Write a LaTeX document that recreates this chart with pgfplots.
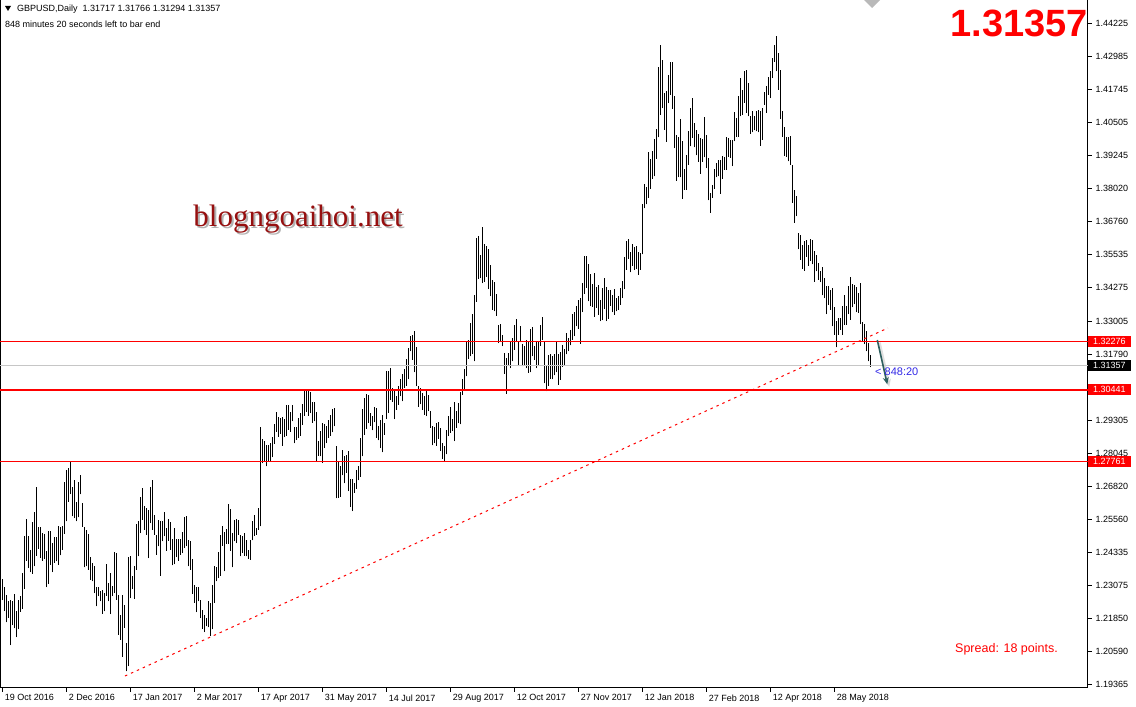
\documentclass[border=0pt]{standalone}
\usepackage{fontspec}
\setmainfont{Liberation Sans}
\newfontfamily\wmfont{Liberation Serif}
\usepackage{pgfplots}
\pgfplotsset{compat=1.18}
\usepackage{pgfplotstable}
\usetikzlibrary{arrows.meta}

\definecolor{arrowteal}{RGB}{45,95,95}
\definecolor{wmred}{RGB}{150,15,15}
\definecolor{timeblue}{RGB}{50,40,230}

% GBPUSD daily bars: bar index, low, high
\pgfplotstableread{
i lo hi
0 1.2253 1.2334
1 1.2212 1.2302
2 1.2170 1.2274
3 1.2187 1.2249
4 1.2084 1.2252
5 1.2159 1.2249
6 1.2147 1.2277
7 1.2114 1.2214
8 1.2143 1.2252
9 1.2209 1.2268
10 1.2220 1.2355
11 1.2297 1.2495
12 1.2402 1.2559
13 1.2374 1.2495
14 1.2359 1.2443
15 1.2353 1.2547
16 1.2380 1.2584
17 1.2420 1.2677
18 1.2447 1.2527
19 1.2412 1.2527
20 1.2402 1.2505
21 1.2409 1.2503
22 1.2302 1.2439
23 1.2314 1.2514
24 1.2387 1.2514
25 1.2359 1.2468
26 1.2393 1.2489
27 1.2399 1.2489
28 1.2387 1.2533
29 1.2422 1.2527
30 1.2443 1.2533
31 1.2503 1.2699
32 1.2549 1.2743
33 1.2624 1.2749
34 1.2652 1.2774
35 1.2568 1.2680
36 1.2562 1.2705
37 1.2549 1.2624
38 1.2564 1.2699
39 1.2651 1.2724
40 1.2530 1.2618
41 1.2376 1.2530
42 1.2380 1.2518
43 1.2368 1.2503
44 1.2330 1.2415
45 1.2324 1.2393
46 1.2280 1.2380
47 1.2230 1.2303
48 1.2268 1.2302
49 1.2249 1.2289
50 1.2203 1.2290
51 1.2211 1.2280
52 1.2270 1.2389
53 1.2249 1.2318
54 1.2201 1.2355
55 1.2268 1.2308
56 1.2280 1.2436
57 1.2255 1.2430
58 1.2124 1.2274
59 1.2105 1.2199
60 1.2040 1.2274
61 1.2149 1.2236
62 1.1985 1.2093
63 1.2005 1.2415
64 1.2261 1.2418
65 1.2295 1.2345
66 1.2258 1.2383
67 1.2368 1.2540
68 1.2418 1.2549
69 1.2505 1.2640
70 1.2555 1.2674
71 1.2518 1.2609
72 1.2499 1.2599
73 1.2411 1.2593
74 1.2543 1.2680
75 1.2518 1.2705
76 1.2499 1.2574
77 1.2424 1.2499
78 1.2455 1.2555
79 1.2345 1.2549
80 1.2474 1.2551
81 1.2493 1.2583
82 1.2439 1.2524
83 1.2476 1.2558
84 1.2443 1.2546
85 1.2384 1.2484
86 1.2389 1.2526
87 1.2415 1.2484
88 1.2401 1.2484
89 1.2424 1.2484
90 1.2430 1.2511
91 1.2449 1.2564
92 1.2455 1.2570
93 1.2380 1.2478
94 1.2368 1.2474
95 1.2278 1.2408
96 1.2243 1.2309
97 1.2208 1.2303
98 1.2249 1.2303
99 1.2186 1.2255
100 1.2145 1.2218
101 1.2133 1.2199
102 1.2155 1.2186
103 1.2151 1.2251
104 1.2118 1.2243
105 1.2143 1.2311
106 1.2243 1.2380
107 1.2324 1.2376
108 1.2336 1.2436
109 1.2345 1.2499
110 1.2458 1.2533
111 1.2361 1.2508
112 1.2465 1.2520
113 1.2465 1.2615
114 1.2439 1.2595
115 1.2376 1.2505
116 1.2474 1.2555
117 1.2468 1.2558
118 1.2499 1.2553
119 1.2418 1.2500
120 1.2431 1.2493
121 1.2421 1.2506
122 1.2418 1.2481
123 1.2408 1.2441
124 1.2406 1.2478
125 1.2478 1.2550
126 1.2496 1.2575
127 1.2500 1.2525
128 1.2518 1.2600
129 1.2531 1.2903
130 1.2768 1.2858
131 1.2777 1.2852
132 1.2756 1.2837
133 1.2775 1.2837
134 1.2775 1.2843
135 1.2791 1.2866
136 1.2841 1.2916
137 1.2887 1.2962
138 1.2868 1.2943
139 1.2878 1.2937
140 1.2833 1.2941
141 1.2866 1.2933
142 1.2871 1.2987
143 1.2893 1.2987
144 1.2887 1.2962
145 1.2925 1.2987
146 1.2843 1.2906
147 1.2856 1.2906
148 1.2862 1.2937
149 1.2871 1.2958
150 1.2912 1.2991
151 1.2946 1.3046
152 1.2962 1.3040
153 1.2946 1.3040
154 1.2956 1.3034
155 1.2921 1.3000
156 1.2925 1.3000
157 1.2775 1.2962
158 1.2796 1.2850
159 1.2794 1.2890
160 1.2769 1.2919
161 1.2825 1.2917
162 1.2844 1.2909
163 1.2863 1.2932
164 1.2872 1.2950
165 1.2884 1.2972
166 1.2907 1.2975
167 1.2636 1.2834
168 1.2638 1.2775
169 1.2642 1.2759
170 1.2722 1.2819
171 1.2692 1.2797
172 1.2732 1.2800
173 1.2663 1.2813
174 1.2604 1.2709
175 1.2588 1.2709
176 1.2657 1.2692
177 1.2672 1.2744
178 1.2704 1.2757
179 1.2717 1.2863
180 1.2794 1.2972
181 1.2875 1.3013
182 1.2897 1.3029
183 1.2919 1.3025
184 1.2909 1.2957
185 1.2892 1.2947
186 1.2922 1.2979
187 1.2863 1.2975
188 1.2854 1.2909
189 1.2825 1.2929
190 1.2809 1.2950
191 1.2875 1.2919
192 1.2934 1.3113
193 1.2957 1.3113
194 1.3007 1.3125
195 1.3000 1.3050
196 1.2934 1.3038
197 1.2969 1.3019
198 1.2988 1.3059
199 1.3020 1.3085
200 1.3001 1.3105
201 1.3051 1.3123
202 1.3060 1.3160
203 1.3083 1.3201
204 1.3189 1.3245
205 1.3158 1.3251
206 1.3110 1.3264
207 1.3058 1.3205
208 1.2980 1.3060
209 1.2989 1.3051
210 1.2970 1.3033
211 1.2951 1.3020
212 1.2945 1.3039
213 1.2964 1.3023
214 1.2901 1.2964
215 1.2835 1.2908
216 1.2843 1.2905
217 1.2833 1.2920
218 1.2860 1.2923
219 1.2814 1.2901
220 1.2783 1.2843
221 1.2776 1.2833
222 1.2801 1.2893
223 1.2870 1.2945
224 1.2883 1.2980
225 1.2889 1.2933
226 1.2851 1.2998
227 1.2901 1.2964
228 1.2918 1.2995
229 1.2914 1.3035
230 1.3026 1.3083
231 1.3045 1.3123
232 1.3095 1.3223
233 1.3160 1.3233
234 1.3170 1.3295
235 1.3180 1.3330
236 1.3151 1.3401
237 1.3376 1.3614
238 1.3460 1.3623
239 1.3464 1.3551
240 1.3445 1.3658
241 1.3451 1.3593
242 1.3470 1.3585
243 1.3423 1.3573
244 1.3395 1.3514
245 1.3345 1.3458
246 1.3339 1.3451
247 1.3323 1.3405
248 1.3220 1.3289
249 1.3226 1.3293
250 1.3208 1.3251
251 1.3105 1.3183
252 1.3030 1.3164
253 1.3133 1.3183
254 1.3126 1.3223
255 1.3151 1.3239
256 1.3195 1.3289
257 1.3223 1.3310
258 1.3133 1.3226
259 1.3223 1.3285
260 1.3133 1.3218
261 1.3135 1.3210
262 1.3126 1.3230
263 1.3108 1.3226
264 1.3110 1.3273
265 1.3170 1.3280
266 1.3158 1.3208
267 1.3126 1.3226
268 1.3133 1.3226
269 1.3210 1.3289
270 1.3233 1.3318
271 1.3068 1.3223
272 1.3039 1.3135
273 1.3060 1.3176
274 1.3085 1.3180
275 1.3083 1.3173
276 1.3098 1.3180
277 1.3110 1.3223
278 1.3064 1.3180
279 1.3081 1.3186
280 1.3131 1.3214
281 1.3136 1.3196
282 1.3177 1.3258
283 1.3189 1.3239
284 1.3211 1.3268
285 1.3233 1.3331
286 1.3246 1.3336
287 1.3283 1.3361
288 1.3273 1.3383
289 1.3218 1.3389
290 1.3336 1.3446
291 1.3406 1.3548
292 1.3427 1.3546
293 1.3377 1.3518
294 1.3358 1.3481
295 1.3356 1.3443
296 1.3318 1.3483
297 1.3352 1.3431
298 1.3327 1.3439
299 1.3302 1.3381
300 1.3306 1.3427
301 1.3348 1.3464
302 1.3302 1.3431
303 1.3311 1.3421
304 1.3361 1.3418
305 1.3336 1.3402
306 1.3327 1.3423
307 1.3339 1.3389
308 1.3346 1.3396
309 1.3364 1.3427
310 1.3389 1.3452
311 1.3423 1.3543
312 1.3496 1.3602
313 1.3536 1.3611
314 1.3486 1.3561
315 1.3511 1.3593
316 1.3496 1.3581
317 1.3498 1.3583
318 1.3477 1.3561
319 1.3495 1.3559
320 1.3553 1.3743
321 1.3726 1.3818
322 1.3741 1.3806
323 1.3766 1.3938
324 1.3801 1.3913
325 1.3838 1.3943
326 1.3847 1.3988
327 1.3913 1.4026
328 1.3993 1.4259
329 1.4078 1.4341
330 1.4103 1.4284
331 1.4022 1.4159
332 1.3976 1.4166
333 1.4122 1.4228
334 1.4153 1.4278
335 1.4101 1.4278
336 1.3953 1.4147
337 1.3831 1.4003
338 1.3843 1.3993
339 1.3843 1.4063
340 1.3763 1.3981
341 1.3797 1.3876
342 1.3797 1.3926
343 1.3891 1.4016
344 1.3959 1.4103
345 1.3991 1.4143
346 1.3956 1.4047
347 1.3926 1.4022
348 1.3901 1.4006
349 1.3856 1.3991
350 1.3901 1.3988
351 1.3918 1.4068
352 1.3878 1.4003
353 1.3756 1.3916
354 1.3709 1.3784
355 1.3766 1.3816
356 1.3801 1.3876
357 1.3843 1.3897
358 1.3847 1.3909
359 1.3782 1.3910
360 1.3837 1.3922
361 1.3872 1.3920
362 1.3872 1.3995
363 1.3920 1.3991
364 1.3916 1.3985
365 1.3885 1.3982
366 1.3978 1.4087
367 1.3995 1.4066
368 1.3995 1.4150
369 1.4072 1.4216
370 1.4078 1.4172
371 1.4124 1.4241
372 1.4085 1.4245
373 1.4072 1.4197
374 1.4007 1.4075
375 1.4012 1.4091
376 1.4020 1.4075
377 1.4016 1.4091
378 1.4012 1.4097
379 1.3962 1.4094
380 1.3985 1.4103
381 1.4116 1.4162
382 1.4085 1.4185
383 1.4153 1.4222
384 1.4141 1.4241
385 1.4216 1.4291
386 1.4278 1.4341
387 1.4241 1.4375
388 1.4172 1.4312
389 1.4062 1.4245
390 1.3995 1.4091
391 1.3925 1.4032
392 1.3920 1.3995
393 1.3903 1.3995
394 1.3891 1.3997
395 1.3747 1.3891
396 1.3672 1.3797
397 1.3697 1.3772
398 1.3572 1.3632
399 1.3533 1.3626
400 1.3499 1.3589
401 1.3491 1.3604
402 1.3545 1.3608
403 1.3511 1.3589
404 1.3529 1.3611
405 1.3516 1.3608
406 1.3451 1.3566
407 1.3489 1.3551
408 1.3458 1.3520
409 1.3449 1.3489
410 1.3399 1.3504
411 1.3389 1.3464
412 1.3329 1.3433
413 1.3364 1.3433
414 1.3345 1.3420
415 1.3283 1.3426
416 1.3251 1.3354
417 1.3204 1.3301
418 1.3251 1.3314
419 1.3270 1.3314
420 1.3251 1.3358
421 1.3289 1.3399
422 1.3289 1.3361
423 1.3329 1.3436
424 1.3308 1.3470
425 1.3354 1.3441
426 1.3366 1.3439
427 1.3336 1.3429
428 1.3333 1.3408
429 1.3291 1.3445
430 1.3229 1.3299
431 1.3216 1.3291
432 1.3189 1.3264
433 1.3151 1.3220
434 1.31294 1.31766
}\gbp

\begin{document}
\begin{tikzpicture}[x=1pt,y=1pt]
\begin{axis}[
  at={(0,0)}, anchor=south west,
  scale only axis, width=1088pt, height=688pt,
  xmin=-1.15, xmax=542.85,
  ymin=1.19229, ymax=1.45098,
  clip=false,
  axis line style={black, line width=1pt},
  xtick={0,32,...,416},
  xticklabels={19 Oct 2016,2 Dec 2016,17 Jan 2017,2 Mar 2017,17 Apr 2017,31 May 2017,14 Jul 2017,29 Aug 2017,12 Oct 2017,27 Nov 2017,12 Jan 2018,27 Feb 2018,12 Apr 2018,28 May 2018},
  ytick={1.19365,1.20590,1.21850,1.23075,1.24335,1.25560,1.26820,1.28045,1.29305,1.31790,1.33005,1.34275,1.35535,1.36760,1.38020,1.39245,1.40505,1.41745,1.42985,1.44225},
  yticklabels={1.19365,1.20590,1.21850,1.23075,1.24335,1.25560,1.26820,1.28045,1.29305,1.31790,1.33005,1.34275,1.35535,1.36760,1.38020,1.39245,1.40505,1.41745,1.42985,1.44225},
  xtick pos=bottom, ytick pos=right, yticklabel pos=right,
  tick align=outside, major tick length=4pt,
  tick style={black, line width=0.8pt},
  xticklabel style={anchor=north west, xshift=-1pt, yshift=1pt, font=\fontsize{9}{10}\selectfont},
  yticklabel style={font=\fontsize{9}{10}\selectfont},
]
% daily bars (low to high)
\addplot[only marks, mark=*, mark size=0pt, mark options={draw=none, fill=none},
  error bars/.cd, y dir=plus, y explicit, error mark=none,
  error bar style={draw=black, solid, line width=1pt}]
  table[x=i, y=lo, y error expr=\thisrow{hi}-\thisrow{lo}] {\gbp};

% horizontal levels
\addplot[red, line width=1pt] coordinates {(-1.15,1.32276) (542.85,1.32276)};
\addplot[gray!45, line width=1pt] coordinates {(-1.15,1.31357) (542.85,1.31357)};
\addplot[red, line width=1.7pt] coordinates {(-1.15,1.30441) (542.85,1.30441)};
\addplot[red, line width=1pt] coordinates {(-1.15,1.27761) (542.85,1.27761)};

% rising trend line
\addplot[red, line width=1pt, dash pattern=on 2.5pt off 4pt] coordinates {(61.35,1.1968) (442.85,1.32765)};

% arrow with soft shadow
\addplot[gray!40, line width=3pt, opacity=0.6, -{Stealth[length=8pt,width=7pt]}] coordinates {(438.5,1.32214) (443.5,1.30548)};
\addplot[arrowteal, line width=1.6pt, -{Stealth[length=7pt,width=6pt]}] coordinates {(437.5,1.32314) (442.5,1.30648)};
\node[anchor=west, inner sep=0, text=timeblue, font=\fontsize{11}{12}\selectfont] at (axis cs:436.35,1.3111) {< 848:20};

% price boxes on the scale
\node[fill=red, text=white, anchor=west, inner xsep=5pt, inner ysep=1.5pt, text height=7pt, text depth=1pt, font=\fontsize{9}{10}\selectfont] at (axis cs:542.85,1.32276) {1.32276};
\node[fill=black, text=white, anchor=west, inner xsep=5pt, inner ysep=1.5pt, text height=7pt, text depth=1pt, font=\fontsize{9}{10}\selectfont] at (axis cs:542.85,1.31357) {1.31357};
\node[fill=red, text=white, anchor=west, inner xsep=5pt, inner ysep=1.5pt, text height=7pt, text depth=1pt, font=\fontsize{9}{10}\selectfont] at (axis cs:542.85,1.30441) {1.30441};
\node[fill=red, text=white, anchor=west, inner xsep=5pt, inner ysep=1.5pt, text height=7pt, text depth=1pt, font=\fontsize{9}{10}\selectfont] at (axis cs:542.85,1.27761) {1.27761};
\end{axis}

% header
\fill (5,682) -- (11,682) -- (8,677) -- cycle;
\node[anchor=west, inner sep=0, font=\fontsize{9}{10}\selectfont] at (17,679) {GBPUSD,Daily\ \ 1.31717 1.31766 1.31294 1.31357};
\node[anchor=west, inner sep=0, font=\fontsize{9}{10}\selectfont] at (5,664) {848 minutes 20 seconds left to bar end};
\fill[gray!55] (864,688) -- (880,688) -- (872,680) -- cycle;

% big price
\node[anchor=north east, inner sep=0, text=red, font=\fontsize{38}{40}\bfseries] at (1088,678) {1.31357};

% watermark
\node[text=gray!60, font=\wmfont\fontsize{31}{33}\selectfont] at (300,467) {blogngoaihoi.net};
\node[text=wmred, font=\wmfont\fontsize{31}{33}\selectfont] at (298,469) {blogngoaihoi.net};

% spread
\node[anchor=west, inner sep=0, text=red, font=\fontsize{12.5}{13.5}\selectfont] at (955,39) {Spread: 18 points.};

\pgfresetboundingbox
\path[use as bounding box] (0,-19) rectangle (1136,688);
\end{tikzpicture}
\end{document}
